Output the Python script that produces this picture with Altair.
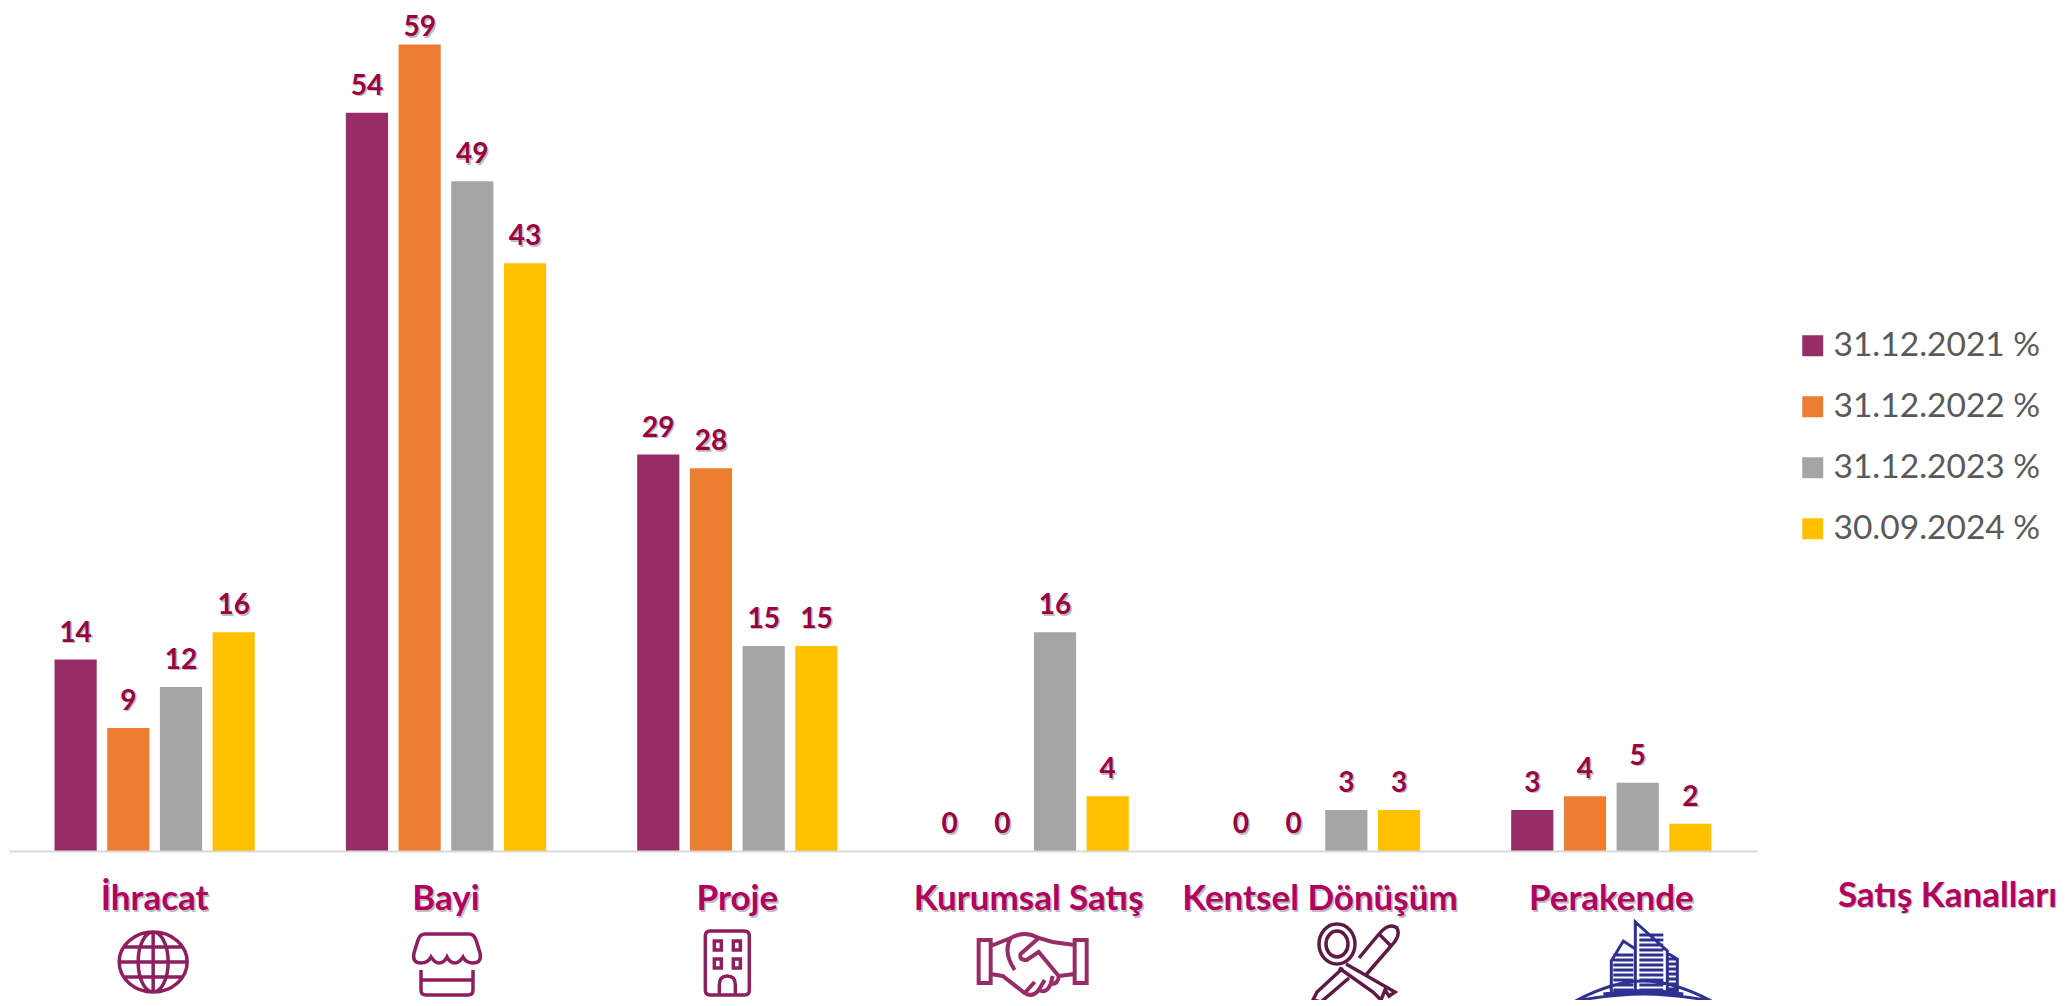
import altair as alt
import pandas as pd

categories = ["İhracat", "Bayi", "Proje", "Kurumsal Satış", "Kentsel Dönüşüm", "Perakende"]
series = ["31.12.2021 %", "31.12.2022 %", "31.12.2023 %", "30.09.2024 %"]
v2021 = [14, 54, 29, 0, 0, 3]
v2022 = [9, 59, 28, 0, 0, 4]
v2023 = [12, 49, 15, 16, 3, 5]
v2024 = [16, 43, 15, 4, 3, 2]
colors = ["#962D66", "#ED7D31", "#A5A5A5", "#FFC000"]
axis_title = "Satış Kanalları"

rows = []
for s, vals in zip(series, [v2021, v2022, v2023, v2024]):
    for c, v in zip(categories, vals):
        rows.append({"cat": c, "series": s, "value": v})
df = pd.DataFrame(rows)

LABEL = "#990042"
CAT = "#B2005E"
SHADOW = "#BDBDBD"
W, H = 1748, 842
YMAX = H / 13.67
BAND = W / 6
CATSIZE = 35
LABPAD = 30
TITLE_X, TITLE_Y = 1938, 44

x = alt.X("cat:N", sort=categories,
          scale=alt.Scale(paddingInner=0, paddingOuter=0),
          axis=alt.Axis(title=axis_title, titleX=TITLE_X, titleY=TITLE_Y,
                        titleFont="Lato", titleFontSize=CATSIZE, titleFontWeight="bold",
                        titleColor=CAT, titleAlign="center", titleBaseline="middle",
                        labelAngle=0, labelFont="Lato", labelFontSize=CATSIZE,
                        labelFontWeight="bold", labelColor=CAT, labelPadding=LABPAD,
                        labelOverlap=False, labelLimit=400, ticks=False,
                        domainColor="#D9D9D9", domainWidth=2, zindex=1))
xo = alt.XOffset("series:N", sort=series,
                 scale=alt.Scale(domain=series, paddingInner=0.2, paddingOuter=0.864))
y = alt.Y("value:Q", scale=alt.Scale(domain=[0, YMAX], nice=False), axis=None)

bars = alt.Chart(df).mark_bar(cornerRadius=0).encode(
    x=x, xOffset=xo, y=y,
    color=alt.Color("series:N", sort=series,
                    scale=alt.Scale(domain=series, range=colors),
                    legend=alt.Legend(title=None, orient="none", legendX=1787, legendY=320,
                                      symbolType="square", symbolSize=441, symbolStrokeWidth=0,
                                      labelFont="Lato", labelFontSize=33.5, labelColor="#595959",
                                      labelOffset=4, rowPadding=26, labelLimit=300)),
)


def labels(color, dx, dy):
    return alt.Chart(df).transform_calculate(
        ly="min(datum.value, 58.3)"
    ).mark_text(font="Lato", fontWeight="bold", fontSize=28, color=color,
                baseline="bottom", dx=dx, dy=-12 + dy).encode(
        x=alt.X("cat:N", sort=categories), xOffset=xo,
        y=alt.Y("ly:Q", scale=alt.Scale(domain=[0, YMAX], nice=False), axis=None),
        text="value:Q",
    )


cat_shadow = alt.Chart(pd.DataFrame({"cat": categories})).mark_text(
    font="Lato", fontWeight="bold", fontSize=CATSIZE, color=SHADOW,
    baseline="top", dx=1.5, dy=1.5
).encode(
    x=alt.X("cat:N", sort=categories),
    y=alt.value(H + LABPAD + 1),
    text="cat:N",
)
title_shadow = alt.Chart(pd.DataFrame({"t": [axis_title]})).mark_text(
    font="Lato", fontWeight="bold", fontSize=CATSIZE, color=SHADOW,
    baseline="middle", align="center", dx=1.5, dy=1.5
).encode(
    x=alt.value(TITLE_X), y=alt.value(H + TITLE_Y), text="t:N",
)

icon_globe = ("M-34,0A34,30 0 1,0 34,0A34,30 0 1,0 -34,0Z M0,-30A15,30 0 1,0 0,30A15,30 0 1,0 0,-30Z "
              "M0,-30V30 M-34,0H34 M-29,-15H29 M-29,15H29")
icon_store = ("M-22,-30H22Q27,-30 29,-24L33,-11Q35,-1 26,-1Q19,-1 16,-7Q12,-1 8,-1Q3,-1 0,-7Q-3,-1 -8,-1"
              "Q-12,-1 -16,-7Q-19,-1 -26,-1Q-35,-1 -33,-11L-29,-24Q-27,-30 -22,-30Z "
              "M-26,6V26Q-26,31 -21,31H21Q26,31 26,26V6 M-26,16H26")
icon_house = ("M-17,-32H17Q22,-32 22,-27V27Q22,32 17,32H-17Q-22,32 -22,27V-27Q-22,-32 -17,-32Z "
              "M-13,-22H-6V-13H-13Z M6,-22H13V-13H6Z M-13,-4H-6V5H-13Z M6,-4H13V5H6Z "
              "M-8,32V22Q-8,13 0,13Q8,13 8,22V32")
icon_hands = ("M-54,-22H-42V21H-54Z M54,-22H42V21H54Z "
              "M-42,-16L-22,-24Q-8,-32 6,-24L20,-20L42,-17 "
              "M-42,12L-30,14L-8,31Q0,36 6,28Q14,32 18,22Q26,22 26,14L42,12 "
              "M6,-24L-12,-8Q-14,-2 -6,-2L6,-10L26,14 "
              "M-22,-24Q-30,-10 -18,8 M-8,31L2,20 M6,28L12,18 M18,22L20,14")
icon_keys = ("M-2,-18A18,20 0 1,0 -38,-18A18,20 0 1,0 -2,-18Z "
             "M-9,-18A11,13 0 1,0 -31,-18A11,13 0 1,0 -9,-18Z "
             "M-11,2L38,30L32,34L28,28L24,38L16,30L-18,6 "
             "M2,-4L22,-28Q32,-40 40,-34Q44,-26 34,-16L8,14 "
             "M22,-28L34,-16 M-8,16L-36,40L-44,38L-40,30L-14,6")
tower_floors = "".join(f"M-4,{v}H20 " for v in range(-26, 31, 5))
tower_low = "".join(f"M-30,{v}H-10 " for v in range(-6, 31, 5))
tower_side = "".join(f"M25,{v}H33 " for v in range(-2, 30, 5))
icon_tower = ("M-8,-39L24,-10V32H-8Z M24,-8L34,-2V30H24Z M-8,-12L-20,-20L-32,0V32H-8Z "
              "M-68,40Q-30,20 0,20Q30,20 68,40Q30,33 0,33Q-30,33 -68,40Z M-40,33Q0,26 40,33 "
              + tower_floors + tower_low + tower_side)

icon_specs = [
    ("İhracat", icon_globe, -1.5, 953, "#8E1F5E", 3.5),
    ("Bayi", icon_store, 1, 955, "#8E1F5E", 3.5),
    ("Proje", icon_house, -10, 954, "#8E1F5E", 3.5),
    ("Kurumsal Satış", icon_hands, 4, 953, "#962D66", 4),
    ("Kentsel Dönüşüm", icon_keys, 37, 953, "#5E1A45", 3.5),
    ("Perakende", icon_tower, 32, 952, "#2E3192", 3),
]
icons = []
for cat, shape, off, ypx, col, sw in icon_specs:
    icons.append(
        alt.Chart(pd.DataFrame({"cat": [cat]})).mark_point(
            shape=shape, filled=False, size=4, stroke=col, strokeWidth=sw, opacity=1
        ).encode(
            x=alt.X("cat:N", sort=categories),
            xOffset=alt.value(off + BAND / 2),
            y=alt.value(ypx),
        )
    )

chart = alt.layer(
    bars, cat_shadow, title_shadow, labels(SHADOW, 1.5, 1.5), labels(LABEL, 0, 0), *icons
).properties(
    width=W, height=H,
    padding={"left": 1, "top": 1, "right": 300, "bottom": 149},
    autosize=alt.AutoSizeParams(type="none"),
).configure_view(stroke=None)

chart.save("out.html", embed_options={"renderer": "svg", "actions": False})
